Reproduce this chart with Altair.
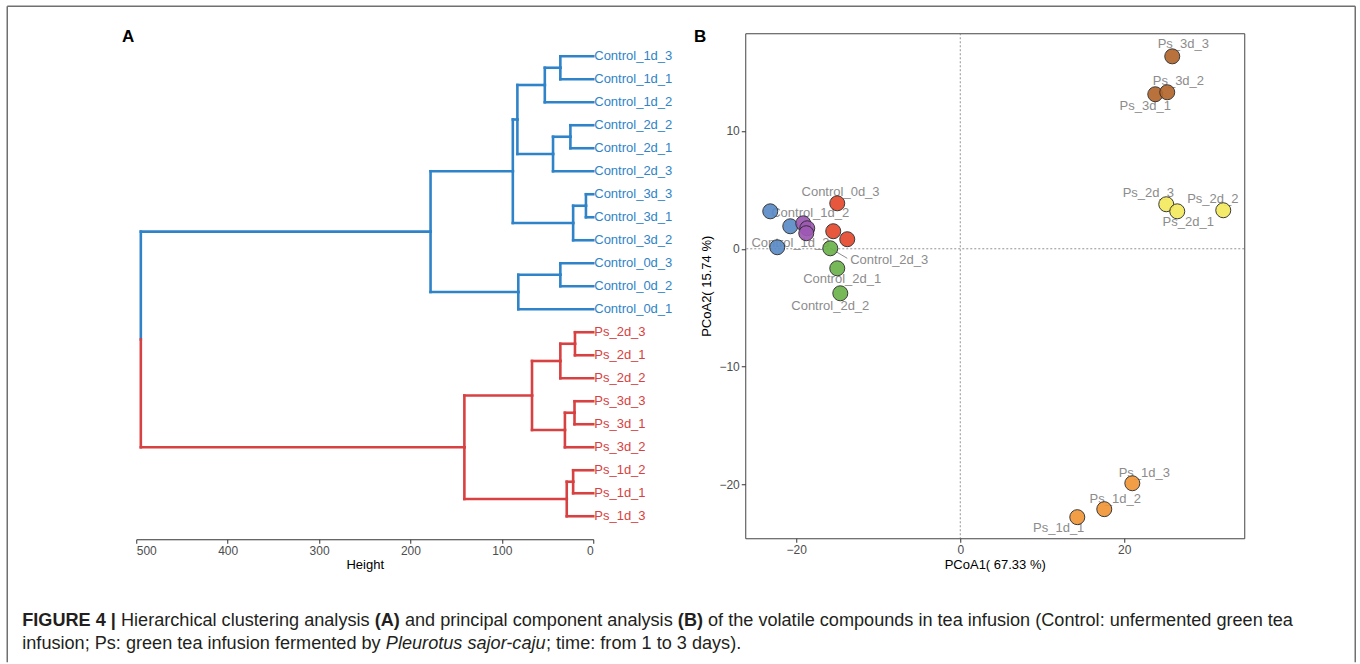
import altair as alt
import pandas as pd

FONT = "Liberation Sans"

# ---------------- Panel A: hierarchical clustering ----------------
leaves = ["Control_1d_3", "Control_1d_1", "Control_1d_2", "Control_2d_2", "Control_2d_1", "Control_2d_3",
          "Control_3d_3", "Control_3d_1", "Control_3d_2", "Control_0d_3", "Control_0d_2", "Control_0d_1",
          "Ps_2d_3", "Ps_2d_1", "Ps_2d_2", "Ps_3d_3", "Ps_3d_1", "Ps_3d_2", "Ps_1d_2", "Ps_1d_1", "Ps_1d_3"]
merge_left = ["Control_1d_3", "m0", "Control_2d_2", "m2", "m1", "Control_3d_3", "m5", "m4", "Control_0d_3", "m8",
              "m7", "Ps_2d_3", "m11", "Ps_3d_3", "m13", "m12", "Ps_1d_2", "m16", "m15", "m10"]
merge_right = ["Control_1d_1", "Control_1d_2", "Control_2d_1", "Control_2d_3", "m3", "Control_3d_1", "Control_3d_2",
               "m6", "Control_0d_2", "Control_0d_1", "m9", "Ps_2d_1", "Ps_2d_2", "Ps_3d_1", "Ps_3d_2", "m14",
               "Ps_1d_1", "Ps_1d_3", "m17", "m18"]
merge_height = [36, 53, 25, 44, 83, 8, 22, 88, 36, 82, 178, 20, 36, 20.5, 31, 67, 22, 29, 141, 495]
cluster_color = {"Control": "#2f83c8", "Ps": "#d84141"}

# ---------------- Panel B: PCoA ----------------
samples = ["Control_0d_1", "Control_0d_2", "Control_0d_3",
           "Control_1d_1", "Control_1d_2", "Control_1d_3",
           "Control_3d_1", "Control_3d_2", "Control_3d_3",
           "Control_2d_3", "Control_2d_1", "Control_2d_2",
           "Ps_3d_3", "Ps_3d_1", "Ps_3d_2",
           "Ps_2d_2", "Ps_2d_3", "Ps_2d_1",
           "Ps_1d_3", "Ps_1d_2", "Ps_1d_1"]
groups = ["Control_0d", "Control_0d", "Control_0d",
          "Control_1d", "Control_1d", "Control_1d",
          "Control_3d", "Control_3d", "Control_3d",
          "Control_2d", "Control_2d", "Control_2d",
          "Ps_3d", "Ps_3d", "Ps_3d",
          "Ps_2d", "Ps_2d", "Ps_2d",
          "Ps_1d", "Ps_1d", "Ps_1d"]
pc1 = [-15.49, -13.78, -15.0,
       -23.17, -20.73, -22.32,
       -19.15, -18.66, -18.78,
       -15.85, -15.0, -14.63,
       25.85, 23.78, 25.24,
       32.07, 25.12, 26.46,
       20.98, 17.56, 14.27]
pc2 = [1.49, 0.81, 3.86,
       3.18, 1.91, 0.13,
       2.16, 1.74, 1.32,
       0.04, -1.66, -3.78,
       16.34, 13.12, 13.29,
       3.27, 3.78, 3.18,
       -19.91, -22.11, -22.79]
group_names = ["Control_0d", "Control_1d", "Control_2d", "Control_3d", "Ps_1d", "Ps_2d", "Ps_3d"]
group_colors = ["#e4492d", "#5b8bc7", "#6cb24a", "#9d59b3", "#f19638", "#f3ea5d", "#b5672c"]

label_text = ["Control_0d_3", "Control_1d_2", "Control_1d_3", "Control_2d_3", "Control_2d_1", "Control_2d_2",
              "Ps_3d_3", "Ps_3d_2", "Ps_3d_1", "Ps_2d_3", "Ps_2d_1", "Ps_2d_2", "Ps_1d_3", "Ps_1d_2", "Ps_1d_1"]
label_x = [-14.6, -18.3, -20.7, -8.66, -14.4, -15.85, 27.2, 26.6, 22.56, 22.93, 27.8, 30.8, 22.44, 18.9, 12.0]
label_y = [4.8, 3.01, 0.47, -0.98, -2.59, -4.88, 17.36, 14.22, 12.1, 4.71, 2.25, 4.2, -19.06, -21.27, -23.73]
connector_x = [-15.85, -13.78]
connector_y = [0.04, -0.81]

x_ticks = [-20, 0, 20]
y_ticks = [-20, -10, 0, 10]
height_ticks = [0, 100, 200, 300, 400, 500]

caption_line1 = [("FIGURE 4 |", "bold"), ("Hierarchical clustering analysis", "normal"), ("(A)", "bold"),
                 ("and principal component analysis", "normal"), ("(B)", "bold"),
                 ("of the volatile compounds in tea infusion (Control: unfermented green tea", "normal")]
caption_line2 = [("infusion; Ps: green tea infusion fermented by", "normal"), ("Pleurotus sajor-caju", "italic"),
                 ("; time: from 1 to 3 days).", "normal")]

# ---------------- build dendrogram segments ----------------
pos, hgt, grp = {}, {}, {}
for i, name in enumerate(leaves):
    pos[name] = i + 1
    hgt[name] = 0
    grp[name] = name.split("_")[0]
segs = []
for i, (l, r, H) in enumerate(zip(merge_left, merge_right, merge_height)):
    node = f"m{i}"
    p = (pos[l] + pos[r]) / 2
    for c in (l, r):
        segs.append(dict(x=hgt[c], x2=H, y=pos[c], y2=pos[c], col=cluster_color[grp[c]]))
    segs.append(dict(x=H, x2=H, y=pos[l], y2=p, col=cluster_color[grp[l]]))
    segs.append(dict(x=H, x2=H, y=p, y2=pos[r], col=cluster_color[grp[r]]))
    pos[node], hgt[node] = p, H
    grp[node] = grp[l] if grp[l] == grp[r] else None
seg_df = pd.DataFrame(segs)
leaf_df = pd.DataFrame({"name": leaves, "x": [0] * len(leaves), "y": [pos[n] for n in leaves],
                        "col": [cluster_color[grp[n]] for n in leaves]})

h_scale = alt.Scale(domain=[0, 500], reverse=True, nice=False, zero=False)
pos_scale = alt.Scale(domain=[0, 22], reverse=True, nice=False, zero=False)
h_axis = alt.Axis(values=height_ticks, format="d", title="Height", grid=False,
                  labelColor="#4d4d4d", labelFontSize=12, labelFont=FONT, labelPadding=2,
                  titleFont=FONT, titleFontSize=13, titleFontWeight="normal", titleColor="#000000",
                  titlePadding=2, domainColor="#333333", tickColor="#333333", tickSize=4)

DW, DH = 457, 506
dend_lines = alt.Chart(seg_df).mark_rule(strokeWidth=2.6, strokeCap="square").encode(
    x=alt.X("x:Q", scale=h_scale, axis=h_axis), x2="x2:Q",
    y=alt.Y("y:Q", scale=pos_scale, axis=None), y2="y2:Q",
    color=alt.Color("col:N", scale=None))
dend_labels = alt.Chart(leaf_df).mark_text(align="left", baseline="middle", dx=1, fontSize=13, font=FONT).encode(
    x=alt.X("x:Q", scale=h_scale, axis=h_axis),
    y=alt.Y("y:Q", scale=pos_scale, axis=None),
    text="name:N", color=alt.Color("col:N", scale=None))

one = pd.DataFrame({"t": [""]})
# panel letter A
ox, oy = 136, 33  # plot origin of panel A in the page
letter_a = alt.Chart(pd.DataFrame({"t": ["A"]})).mark_text(
    fontSize=17, fontWeight="bold", font=FONT, align="center", baseline="middle", color="#000").encode(
    text="t:N", x=alt.value(128 - ox), y=alt.value(37 - oy))

# figure frame (top, left, right)
frame_col = "#707070"
frame = [
    alt.Chart(one).mark_rule(color=frame_col, strokeWidth=1.5).encode(
        x=alt.value(7 - ox), x2=alt.value(1355 - ox), y=alt.value(6 - oy)),
    alt.Chart(one).mark_rule(color=frame_col, strokeWidth=1.5).encode(
        x=alt.value(7 - ox), y=alt.value(6 - oy), y2=alt.value(662 - oy)),
    alt.Chart(one).mark_rule(color=frame_col, strokeWidth=1.5).encode(
        x=alt.value(1355 - ox), y=alt.value(6 - oy), y2=alt.value(662 - oy)),
]

# caption with Arial-metric widths (Liberation Sans shares them)
REG = {" ": 278, "(": 333, ")": 333, ":": 278, ";": 278, "-": 333, ".": 278, ",": 278, "|": 260,
       "A": 667, "B": 667, "C": 722, "E": 667, "F": 611, "G": 778, "H": 722, "I": 278, "P": 667, "R": 722,
       "U": 722, "a": 556, "b": 556, "c": 500, "d": 556, "e": 556, "f": 278, "g": 556, "h": 556, "i": 222,
       "j": 222, "k": 500, "l": 222, "m": 833, "n": 556, "o": 556, "p": 556, "q": 556, "r": 333, "s": 500,
       "t": 278, "u": 556, "v": 500, "w": 722, "x": 500, "y": 500, "z": 500}
BOLD = {" ": 278, "(": 333, ")": 333, "|": 280, "A": 722, "B": 722, "E": 667, "F": 611, "G": 778, "I": 278,
        "R": 722, "U": 722}


def width(s, weight, fs):
    tab = BOLD if weight == "bold" else REG
    return sum(tab.get(ch, REG.get(ch, 556 if ch.isdigit() else 500)) for ch in s) * fs / 1000


line1_units = sum(width(t, w, 1000) for t, w in caption_line1) + width(" ", "normal", 1000) * (len(caption_line1) - 1)
cap_fs = (1293 - 22) * 1000 / line1_units
caption_layers = []
for line, cy in ((caption_line1, 621), (caption_line2, 644)):
    cx = 22.0
    for k, (txt, w) in enumerate(line):
        if k > 0 and not txt.startswith(";"):
            cx += width(" ", "normal", cap_fs)
        caption_layers.append(
            alt.Chart(pd.DataFrame({"t": [txt]})).mark_text(
                fontSize=cap_fs, font=FONT, align="left", baseline="middle", color="#231f20",
                fontWeight="bold" if w == "bold" else "normal",
                fontStyle="italic" if w == "italic" else "normal").encode(
                text="t:N", x=alt.value(cx - ox), y=alt.value(cy - oy)))
        cx += width(txt, w, cap_fs)

dendro = alt.layer(dend_lines, dend_labels, letter_a, *frame, *caption_layers).properties(
    width=DW, height=DH, view=alt.ViewBackground(stroke=None))

# ---------------- PCoA chart ----------------
pts = pd.DataFrame({"sample": samples, "group": groups, "x": pc1, "y": pc2})
lab = pd.DataFrame({"name": label_text, "x": label_x, "y": label_y})
con = pd.DataFrame({"x": [connector_x[0]], "y": [connector_y[0]], "x2": [connector_x[1]], "y2": [connector_y[1]]})

x_scale = alt.Scale(domain=[-26.22, 34.63], nice=False, zero=False)
y_scale = alt.Scale(domain=[-24.58, 18.3], nice=False, zero=False)
common_axis = dict(grid=False, domain=False, labelColor="#4d4d4d", labelFontSize=12, labelFont=FONT,
                   titleFont=FONT, titleFontSize=13, titleFontWeight="normal", titleColor="#000000",
                   tickColor="#333333", tickSize=4, labelPadding=2)
x_axis = alt.Axis(values=x_ticks, title="PCoA1( 67.33 %)", titlePadding=3, **common_axis)
y_axis = alt.Axis(values=y_ticks, title="PCoA2( 15.74 %)", titlePadding=5, **common_axis)


def X(f="x"):
    return alt.X(f"{f}:Q", scale=x_scale, axis=x_axis)


def Y(f="y"):
    return alt.Y(f"{f}:Q", scale=y_scale, axis=y_axis)


vline = alt.Chart(pd.DataFrame({"x": [0]})).mark_rule(color="#777777", strokeWidth=0.8, strokeDash=[2, 2]).encode(x=X())
hline = alt.Chart(pd.DataFrame({"y": [0]})).mark_rule(color="#777777", strokeWidth=0.8, strokeDash=[2, 2]).encode(y=Y())
conn = alt.Chart(con).mark_rule(color="#8c8c8c", strokeWidth=1).encode(x=X(), y=Y(), x2="x2:Q", y2="y2:Q")
labels = alt.Chart(lab).mark_text(fontSize=13, font=FONT, color="#8c8c8c", baseline="middle").encode(
    x=X(), y=Y(), text="name:N")
points = alt.Chart(pts).mark_circle(size=225, opacity=0.92, stroke="#2b2b2b", strokeWidth=1).encode(
    x=X(), y=Y(), color=alt.Color("group:N", scale=alt.Scale(domain=group_names, range=group_colors), legend=None))
letter_b = alt.Chart(pd.DataFrame({"t": ["B"]})).mark_text(
    fontSize=17, fontWeight="bold", font=FONT, align="center", baseline="middle", color="#000").encode(
    text="t:N", x=alt.value(700 - 745), y=alt.value(37 - 33))

pca = alt.layer(vline, hline, conn, labels, points, letter_b).properties(
    width=499, height=505, view=alt.ViewBackground(stroke="#444444", strokeWidth=1))

chart = alt.hconcat(dendro, pca, spacing=745 - 136 - DW, bounds="flush").properties(
    padding={"left": 6.25, "top": 5.25, "right": 0, "bottom": 0}
).configure(font=FONT).configure_view(stroke=None)

chart.save("out.html", embed_options={"renderer": "svg", "actions": False})
